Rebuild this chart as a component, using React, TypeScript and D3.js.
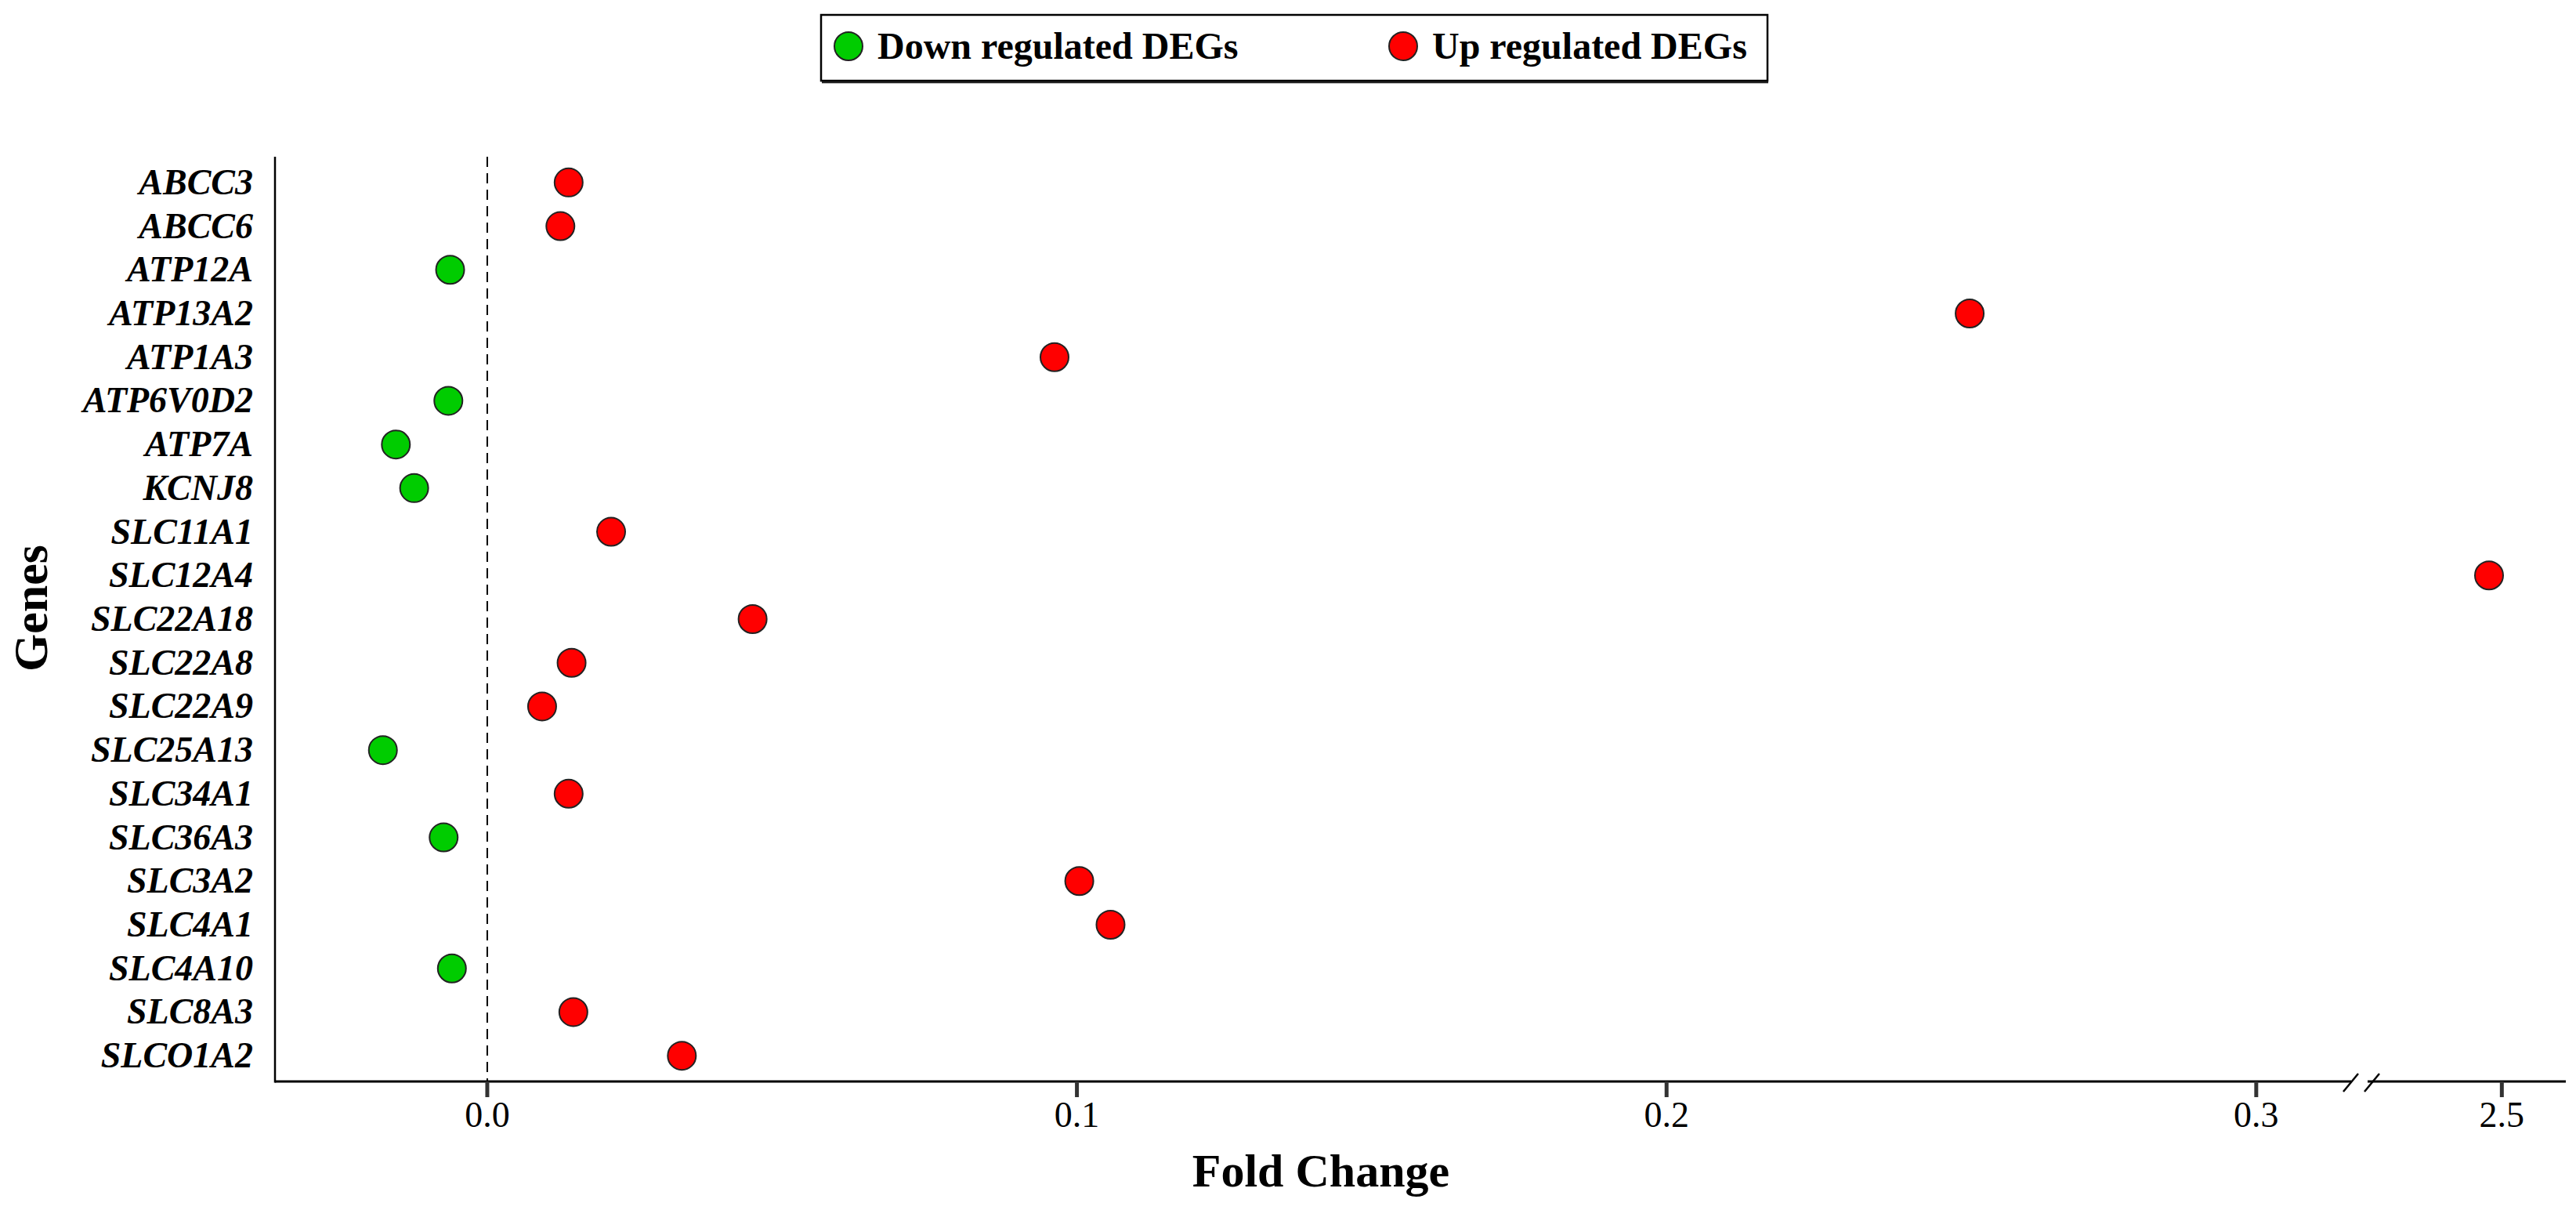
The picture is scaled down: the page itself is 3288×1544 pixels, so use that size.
import React from "react";
import * as d3 from "d3";

const genes = [
  "ABCC3", "ABCC6", "ATP12A", "ATP13A2", "ATP1A3", "ATP6V0D2", "ATP7A", "KCNJ8",
  "SLC11A1", "SLC12A4", "SLC22A18", "SLC22A8", "SLC22A9", "SLC25A13", "SLC34A1",
  "SLC36A3", "SLC3A2", "SLC4A1", "SLC4A10", "SLC8A3", "SLCO1A2",
];
const foldChange = [
  0.0138, 0.0124, -0.0063, 0.2514, 0.0962, -0.0066, -0.0155, -0.0124,
  0.021, 2.49, 0.045, 0.0143, 0.0093, -0.0177, 0.0138,
  -0.0074, 0.1004, 0.1057, -0.006, 0.0146, 0.033,
];
const tickValues = [0.0, 0.1, 0.2, 0.3, 2.5];
const tickLabels = ["0.0", "0.1", "0.2", "0.3", "2.5"];
const legendLabels = ["Down regulated DEGs", "Up regulated DEGs"];
const xTitle = "Fold Change";
const yTitle = "Genes";

const W = 3288;
const H = 1544;
const GREEN = "#00cc00";
const RED = "#ff0000";

export default function App() {
  // broken axis: piecewise linear
  const x = d3
    .scaleLinear()
    .domain([-0.036, 0.3153, 2.4, 2.55])
    .range([351, 2995, 3030, 3275]);
  const y = d3.scalePoint<string>().domain(genes).range([200, 1380]).padding(0.59);

  const axisY = 1380;
  const axisLeft = 351;
  const axisTop = 200;
  const axisRight = 3275;

  const serif = "'Liberation Serif', 'Times New Roman', serif";

  return (
    <svg
      width={W}
      height={H}
      style={{ position: "absolute", left: 0, top: 0, background: "#fff" }}
      xmlns="http://www.w3.org/2000/svg"
    >
      <rect x={0} y={0} width={W} height={H} fill="#fff" />

      {/* Legend */}
      <g>
        <rect x={1048} y={19} width={1208} height={84} fill="#fff" stroke="#000" strokeWidth={2.5} />
        <line x1={1049} x2={2257} y1={105} y2={105} stroke="#222" strokeWidth={2.5} />
        <circle cx={1083} cy={59} r={18} fill={GREEN} stroke="#222" strokeWidth={2} />
        <text x={1120} y={75} fontFamily={serif} fontWeight="bold" fontSize={48} fill="#000">
          {legendLabels[0]}
        </text>
        <circle cx={1791} cy={59} r={18} fill={RED} stroke="#222" strokeWidth={2} />
        <text x={1828} y={75} fontFamily={serif} fontWeight="bold" fontSize={48} fill="#000">
          {legendLabels[1]}
        </text>
      </g>

      {/* zero reference line */}
      <line
        x1={x(0)}
        x2={x(0)}
        y1={axisTop}
        y2={axisY}
        stroke="#000"
        strokeWidth={2}
        strokeDasharray="13 8"
      />

      {/* y axis */}
      <line x1={axisLeft} x2={axisLeft} y1={axisTop} y2={axisY + 1.5} stroke="#000" strokeWidth={2.5} />
      {genes.map((g) => (
        <text
          key={g}
          x={323}
          y={(y(g) as number) + 15}
          textAnchor="end"
          fontFamily={serif}
          fontStyle="italic"
          fontWeight="bold"
          fontSize={46}
          fill="#000"
        >
          {g}
        </text>
      ))}

      {/* x axis with break */}
      <line x1={axisLeft} x2={3001} y1={axisY} y2={axisY} stroke="#000" strokeWidth={3} />
      <line x1={3022} x2={axisRight} y1={axisY} y2={axisY} stroke="#000" strokeWidth={3} />
      <line x1={2991} x2={3010} y1={1393} y2={1370} stroke="#000" strokeWidth={2.5} />
      <line x1={3018} x2={3037} y1={1393} y2={1370} stroke="#000" strokeWidth={2.5} />

      {tickValues.map((v, i) => (
        <g key={i}>
          <line x1={x(v)} x2={x(v)} y1={axisY} y2={axisY + 20} stroke="#333" strokeWidth={5} />
          <text
            x={x(v)}
            y={1438}
            textAnchor="middle"
            fontFamily={serif}
            fontSize={46}
            fill="#000"
          >
            {tickLabels[i]}
          </text>
        </g>
      ))}

      {/* points */}
      {genes.map((g, i) => (
        <circle
          key={g}
          cx={x(foldChange[i])}
          cy={y(g) as number}
          r={18}
          fill={foldChange[i] < 0 ? GREEN : RED}
          stroke="#222"
          strokeWidth={2}
        />
      ))}

      {/* titles */}
      <text
        x={1686}
        y={1514}
        textAnchor="middle"
        fontFamily={serif}
        fontWeight="bold"
        fontSize={60}
        fill="#000"
      >
        {xTitle}
      </text>
      <text
        transform={`translate(60, 776) rotate(-90)`}
        textAnchor="middle"
        fontFamily={serif}
        fontWeight="bold"
        fontSize={62}
        fill="#000"
      >
        {yTitle}
      </text>
    </svg>
  );
}
